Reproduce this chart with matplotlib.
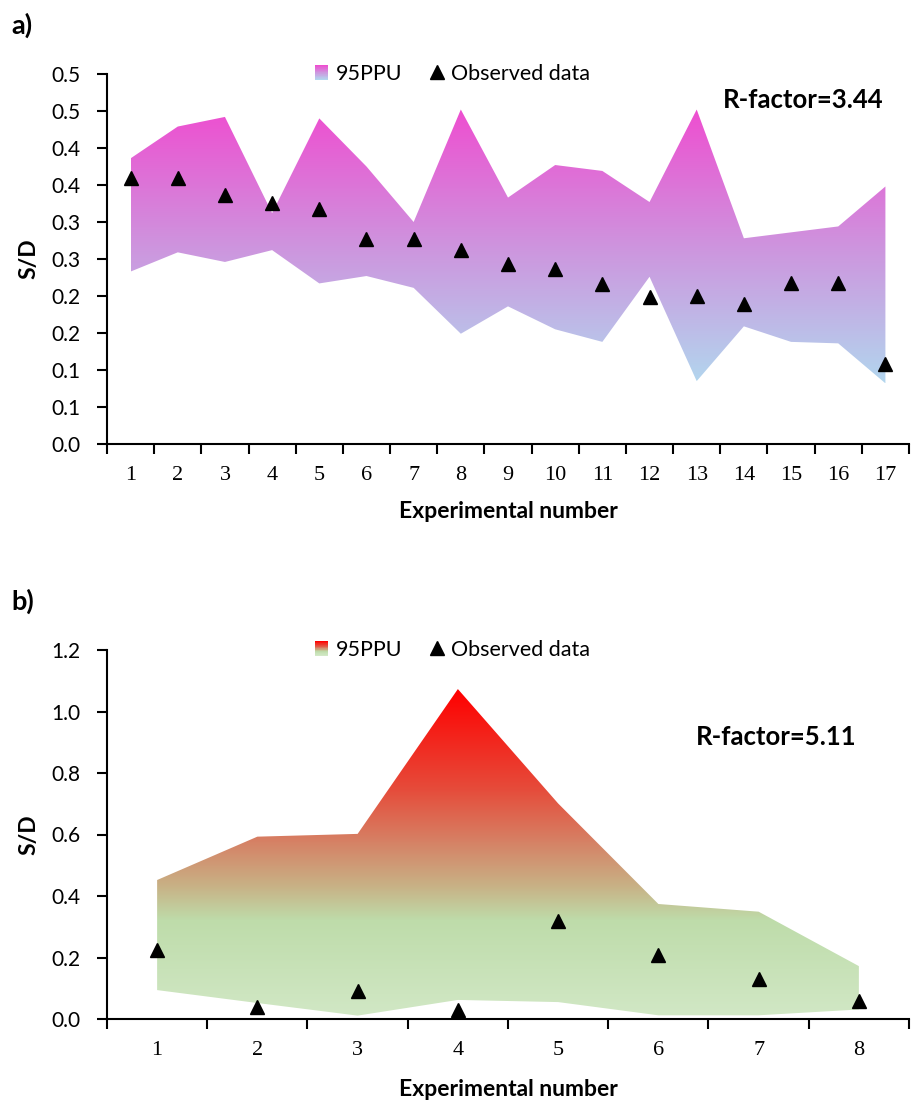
import numpy as np
import matplotlib
matplotlib.use("Agg")
import matplotlib.pyplot as plt
from matplotlib.colors import LinearSegmentedColormap
from matplotlib.patches import Rectangle, PathPatch, Patch
from matplotlib.lines import Line2D
from matplotlib.legend_handler import HandlerBase

plt.rcParams['font.family'] = ['Lato', 'DejaVu Sans']

# ---------------- data ----------------
a_experiments = list(range(1, 18))
a_upper = [0.386, 0.429, 0.442, 0.312, 0.440, 0.375, 0.300, 0.452, 0.333,
           0.377, 0.369, 0.327, 0.452, 0.278, 0.286, 0.294, 0.348]
a_lower = [0.233, 0.259, 0.246, 0.262, 0.217, 0.227, 0.211, 0.149, 0.186,
           0.155, 0.138, 0.226, 0.085, 0.159, 0.138, 0.136, 0.082]
a_observed = [0.359, 0.359, 0.337, 0.326, 0.318, 0.277, 0.277, 0.262, 0.243,
              0.237, 0.216, 0.199, 0.200, 0.189, 0.218, 0.218, 0.108]
a_yticks = [0.0, 0.05, 0.10, 0.15, 0.20, 0.25, 0.30, 0.35, 0.40, 0.45, 0.50]
a_yticklabels = ["0.0", "0.1", "0.1", "0.2", "0.2", "0.3", "0.3", "0.4", "0.4", "0.5", "0.5"]
a_rfactor = "R-factor=3.44"

b_experiments = list(range(1, 9))
b_upper = [0.452, 0.593, 0.602, 1.073, 0.701, 0.374, 0.349, 0.172]
b_lower = [0.094, 0.052, 0.011, 0.062, 0.055, 0.012, 0.012, 0.031]
b_observed = [0.225, 0.038, 0.091, 0.028, 0.318, 0.208, 0.130, 0.059]
b_yticks = [0.0, 0.2, 0.4, 0.6, 0.8, 1.0, 1.2]
b_yticklabels = ["0.0", "0.2", "0.4", "0.6", "0.8", "1.0", "1.2"]
b_rfactor = "R-factor=5.11"

# ---------------- colours ----------------
def rgb(r, g, b):
    return (r / 255, g / 255, b / 255)

cmap_a = LinearSegmentedColormap.from_list(
    "pinkblue", [(0.0, rgb(178, 214, 238)), (0.5, rgb(206, 148, 222)), (1.0, rgb(238, 78, 208))])

b_top = max(b_upper)
b_stops = [(0.0, rgb(210, 232, 198)), (0.32, rgb(190, 220, 170)), (0.43, rgb(200, 178, 134)),
           (0.58, rgb(214, 128, 100)), (0.75, rgb(230, 75, 58)), (b_top, rgb(255, 0, 0))]
cmap_b = LinearSegmentedColormap.from_list(
    "greenred", [(v / b_top, c) for v, c in b_stops])


class GradientHandler(HandlerBase):
    def __init__(self, cmap, n=24):
        super().__init__()
        self.cmap = cmap
        self.n = n

    def create_artists(self, legend, orig_handle, xdescent, ydescent,
                       width, height, fontsize, trans):
        arts = []
        for i in range(self.n):
            r = Rectangle((-xdescent, -ydescent + height * i / self.n), width,
                          height / self.n * 1.05,
                          facecolor=self.cmap(i / (self.n - 1)), edgecolor='none',
                          transform=trans)
            arts.append(r)
        return arts


fig = plt.figure(figsize=(9.12, 11.06), dpi=100)

ax_a = fig.add_axes([107 / 912, 1 - 444 / 1106, 802 / 912, 370 / 1106])
ax_b = fig.add_axes([107 / 912, 1 - 1019 / 1106, 802 / 912, 369 / 1106])


def draw_panel(ax, xs, lower, upper, obs, cmap, yticks, yticklabels, ylim,
               rtext, rpos, xlabel_y):
    n = len(xs)
    poly = ax.fill_between(xs, lower, upper, facecolor='none', edgecolor='none')
    path = poly.get_paths()[0]
    clip = PathPatch(path, transform=ax.transData, facecolor='none', edgecolor='none')
    ax.add_patch(clip)
    grad = np.linspace(0, 1, 512).reshape(-1, 1)
    gmin = 0.0 if cmap is cmap_b else min(lower)
    im = ax.imshow(grad, extent=[xs[0], xs[-1], gmin, max(upper)], origin='lower',
                   aspect='auto', cmap=cmap, interpolation='bilinear', zorder=1)
    im.set_clip_path(clip)
    ax.plot(xs, obs, linestyle='none', marker='^', color='black',
            markersize=9.5, zorder=3)

    ax.set_xlim(0.5, n + 0.5)
    ax.set_ylim(*ylim)
    ax.set_xticks(xs)
    ax.set_xticklabels([str(x) for x in xs], fontfamily='Liberation Serif', fontsize=16)
    ax.set_xticks(np.arange(0.5, n + 1.0, 1.0), minor=True)
    ax.tick_params(axis='x', which='major', length=0, pad=16)
    ax.tick_params(axis='x', which='minor', length=7, width=1.5, direction='out')
    ax.set_yticks(yticks)
    ax.set_yticklabels(yticklabels, fontsize=15)
    ax.tick_params(axis='y', length=7, width=1.5, direction='out', pad=12)

    for s in ['top', 'right']:
        ax.spines[s].set_visible(False)
    for s in ['left', 'bottom']:
        ax.spines[s].set_linewidth(1.5)

    ax.set_ylabel("S/D", fontsize=16.5, fontweight='bold')
    ax.yaxis.set_label_coords(-0.084, 0.5)
    ax.set_xlabel("Experimental number", fontsize=16.5, fontweight='bold')
    ax.xaxis.set_label_coords(0.5, xlabel_y)

    ax.text(rpos[0], rpos[1], rtext, transform=ax.transAxes, fontsize=18.5,
            fontweight='bold', ha='center', va='center')

    proxy = Patch(facecolor='none')
    mk = Line2D([], [], marker='^', color='black', linestyle='none', markersize=9.5)
    ax.legend([proxy, mk], ["95PPU", "Observed data"], ncol=2, loc='center',
              bbox_to_anchor=(0.431, 1.0), frameon=False, fontsize=15.5,
              handlelength=0.6, handleheight=0.7, handletextpad=0.35,
              columnspacing=1.3, numpoints=1,
              handler_map={proxy: GradientHandler(cmap)})


draw_panel(ax_a, a_experiments, a_lower, a_upper, a_observed, cmap_a,
           a_yticks, a_yticklabels, (0, 0.5), a_rfactor, (0.868, 0.930), -0.155)
draw_panel(ax_b, b_experiments, b_lower, b_upper, b_observed, cmap_b,
           b_yticks, b_yticklabels, (0, 1.2), b_rfactor, (0.834, 0.764), -0.163)

fig.text(11 / 912, 1 - 25 / 1106, "a)", fontsize=19.5, fontweight='bold', ha='left', va='center')
fig.text(11 / 912, 1 - 601 / 1106, "b)", fontsize=19.5, fontweight='bold', ha='left', va='center')

fig.savefig("out.png", dpi=100)
